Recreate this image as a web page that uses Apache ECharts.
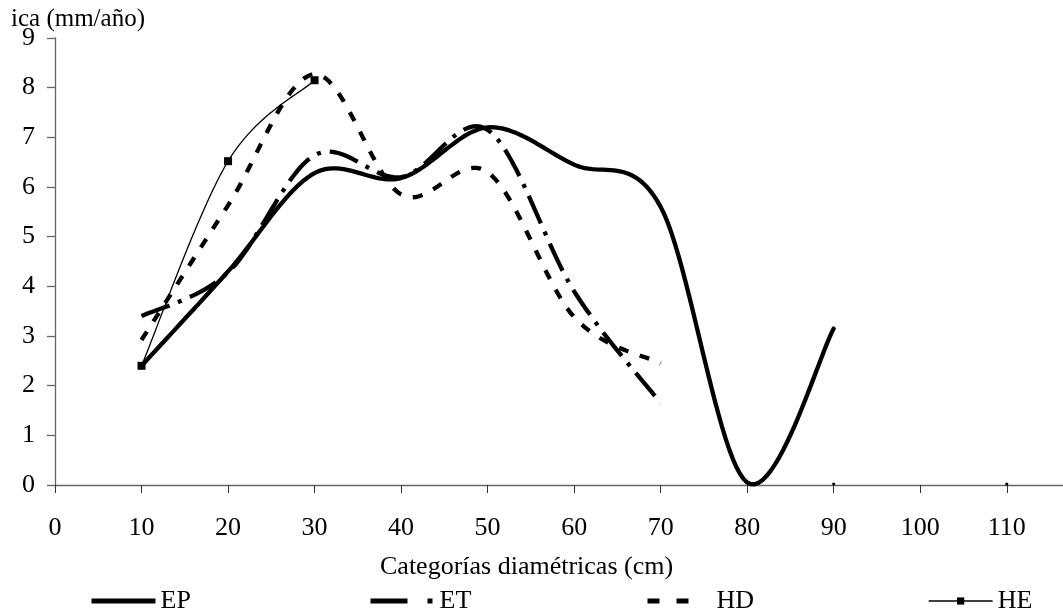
<!DOCTYPE html>
<html><head><meta charset="utf-8">
<script src="https://cdn.jsdelivr.net/npm/echarts@6/dist/echarts.min.js"></script>
<style>html,body{margin:0;padding:0;background:#fff}#c{width:1063px;height:615px}</style>
</head><body><div id="c"></div>
<script>
// Categories (diameter classes, cm)
const diam = [10, 20, 30, 40, 50, 60, 70, 80, 90, 100, 110];
const xTickValues = [0, 10, 20, 30, 40, 50, 60, 70, 80, 90, 100, 110];
const yTickValues = [0, 1, 2, 3, 4, 5, 6, 7, 8, 9];
// Series values (mm/año)
const epValues = [2.4, 4.3, 6.28, 6.18, 7.2, 6.45, 5.6, 0.05, 3.15];
const etValues = [3.4, 4.28, 6.64, 6.2, 7.15, 3.9, 1.65];
const hdValues = [2.92, 5.63, 8.27, 5.85, 6.3, 3.38, 2.45];
const heValues = [2.4, 6.52, 8.15, null, null, null, null, null, 0, null, 0];
const seriesNames = ['EP', 'ET', 'HD', 'HE'];
const xTitle = 'Categorías diamétricas (cm)';
const yTitle = 'ica (mm/año)';

const FONT = '"Liberation Serif", "Times New Roman", serif';
const FS = 26;
const pairs = vals => vals.map((v, i) => [diam[i], v]);

// Smoothed (Excel-like Catmull-Rom) line drawn through the library's coordinate system
function smoothRun(pts) {
  const out = [pts[0]];
  const N = 24;
  for (let i = 0; i < pts.length - 1; i++) {
    const p0 = pts[i - 1] || pts[i], p1 = pts[i], p2 = pts[i + 1], p3 = pts[i + 2] || pts[i + 1];
    const c1 = [p1[0] + (p2[0] - p0[0]) / 6, p1[1] + (p2[1] - p0[1]) / 6];
    const c2 = [p2[0] - (p3[0] - p1[0]) / 6, p2[1] - (p3[1] - p1[1]) / 6];
    for (let k = 1; k <= N; k++) {
      const t = k / N, u = 1 - t;
      const a = u * u * u, b = 3 * u * u * t, c = 3 * u * t * t, d = t * t * t;
      out.push([a * p1[0] + b * c1[0] + c * c2[0] + d * p2[0], a * p1[1] + b * c1[1] + c * c2[1] + d * p2[1]]);
    }
  }
  return out;
}

function curveSeries(name, values, lineStyle, marker) {
  return {
    name: name, type: 'custom', coordinateSystem: 'cartesian2d', z: 3,
    data: pairs(values).filter(p => p[1] !== null),
    encode: {x: 0, y: 1},
    renderItem: function (params, api) {
      if (params.dataIndex !== 0) return null;
      const children = [];
      let run = [];
      const runs = [];
      values.forEach((v, i) => {
        if (v === null) { if (run.length) runs.push(run); run = []; }
        else run.push(api.coord([diam[i], v]));
      });
      if (run.length) runs.push(run);
      runs.forEach(r => {
        if (r.length > 1) {
          children.push({type: 'polyline', shape: {points: smoothRun(r)},
            style: Object.assign({fill: null, stroke: '#000'}, lineStyle)});
          if (marker) r.forEach(p => children.push({type: 'rect',
            shape: {x: p[0] - marker / 2, y: p[1] - marker / 2, width: marker, height: marker},
            style: {fill: '#000'}}));
        } else {
          children.push({type: 'circle', shape: {cx: r[0][0], cy: r[0][1] - 1, r: 1.6}, style: {fill: '#000'}});
        }
      });
      return {type: 'group', children: children};
    }
  };
}

const chart = echarts.init(document.getElementById('c'), null, {renderer: 'canvas'});

const legendBase = {
  orient: 'horizontal', top: 588, padding: 0, itemWidth: 64, itemHeight: 9,
  textStyle: {fontFamily: FONT, fontSize: FS, color: '#000'},
  selectedMode: false
};
const noSymbol = {opacity: 0};

chart.setOption({
  animation: false,
  backgroundColor: '#fff',
  grid: {left: 55, right: 0, top: 38, bottom: 130, containLabel: false},
  xAxis: {
    type: 'value', min: 0, max: 116.5, interval: 10,
    splitLine: {show: false},
    axisLine: {show: true, lineStyle: {color: '#666', width: 1.3}},
    axisTick: {show: true, inside: false, length: 8, lineStyle: {color: '#333', width: 1}, customValues: xTickValues},
    axisLabel: {show: true, margin: 30, fontFamily: FONT, fontSize: FS, color: '#000', customValues: xTickValues}
  },
  yAxis: {
    type: 'value', min: 0, max: 9, interval: 1,
    splitLine: {show: false},
    axisLine: {show: true, lineStyle: {color: '#666', width: 1.3}},
    axisTick: {show: true, length: 8, lineStyle: {color: '#666', width: 1.3}},
    axisLabel: {margin: 20, fontFamily: FONT, fontSize: FS, color: '#000', customValues: yTickValues}
  },
  legend: [
    Object.assign({}, legendBase, {left: 89, data: [seriesNames[0]], itemStyle: noSymbol, lineStyle: {width: 5}}),
    Object.assign({}, legendBase, {left: 368, data: [seriesNames[1]], itemStyle: noSymbol, lineStyle: {width: 5, type: [37, 20, 5, 30]}}),
    Object.assign({}, legendBase, {left: 645, data: [seriesNames[2]], itemStyle: noSymbol, lineStyle: {width: 5, type: [12, 17, 12, 40]}}),
    Object.assign({}, legendBase, {left: 928, data: [seriesNames[3]], lineStyle: {width: 1.3}})
  ],
  graphic: [
    {type: 'text', left: 11, top: 7, style: {text: yTitle, font: '25px ' + FONT, fill: '#000'}},
    {type: 'text', left: 380, top: 554, style: {text: xTitle, font: FS + 'px ' + FONT, fill: '#000'}}
  ],
  series: [
    // legend-icon carriers (line style shown in the legend)
    {name: seriesNames[0], type: 'line', data: [], symbol: 'none', lineStyle: {color: '#000', width: 5}, itemStyle: {color: '#000'}},
    {name: seriesNames[1], type: 'line', data: [], symbol: 'none', lineStyle: {color: '#000', width: 5}, itemStyle: {color: '#000'}},
    {name: seriesNames[2], type: 'line', data: [], symbol: 'none', lineStyle: {color: '#000', width: 5}, itemStyle: {color: '#000'}},
    {name: seriesNames[3], type: 'line', data: [], symbol: 'rect', symbolSize: 8, lineStyle: {color: '#000', width: 1.3}, itemStyle: {color: '#000'}},
    // drawn curves
    curveSeries(seriesNames[0], epValues, {lineWidth: 4.3, lineCap: 'round', lineJoin: 'round'}),
    curveSeries(seriesNames[1], etValues, {lineWidth: 4.3, lineDash: [30, 9, 4, 9], lineCap: 'butt'}),
    curveSeries(seriesNames[2], hdValues, {lineWidth: 4.3, lineDash: [10, 12], lineCap: 'butt'}),
    curveSeries(seriesNames[3], heValues, {lineWidth: 1.3}, 8)
  ]
});
</script></body></html>
